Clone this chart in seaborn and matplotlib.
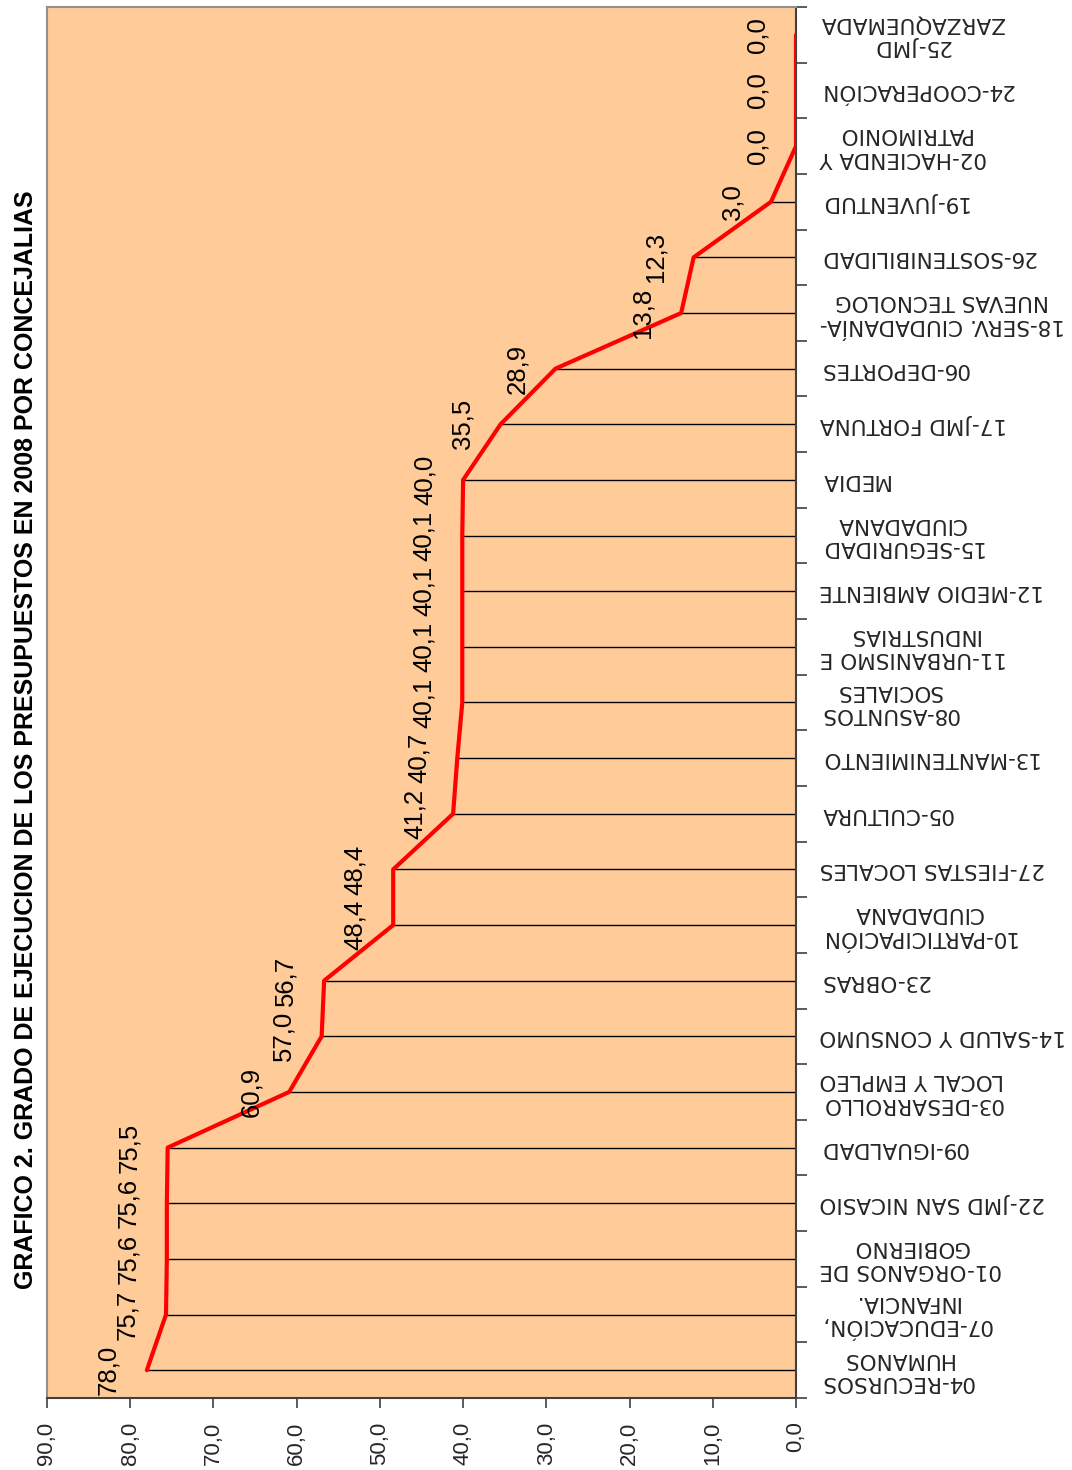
import matplotlib
matplotlib.use("Agg")
import matplotlib.pyplot as plt
import seaborn as sns
import numpy as np
import pandas as pd

categories = [
    "04-RECURSOS\nHUMANOS",
    "07-EDUCACIÓN,\nINFANCIA.",
    "01-ORGANOS DE\nGOBIERNO",
    "22-JMD SAN NICASIO",
    "09-IGUALDAD",
    "03-DESARROLLO\nLOCAL Y EMPLEO",
    "14-SALUD Y CONSUMO",
    "23-OBRAS",
    "10-PARTICIPACIÓN\nCIUDADANA",
    "27-FIESTAS LOCALES",
    "05-CULTURA",
    "13-MANTENIMIENTO",
    "08-ASUNTOS\nSOCIALES",
    "11-URBANISMO E\nINDUSTRIAS",
    "12-MEDIO AMBIENTE",
    "15-SEGURIDAD\nCIUDADANA",
    "MEDIA",
    "17-JMD FORTUNA",
    "06-DEPORTES",
    "18-SERV. CIUDADANÍA-\nNUEVAS TECNOLOG",
    "26-SOSTENIBILIDAD",
    "19-JUVENTUD",
    "02-HACIENDA Y\nPATRIMONIO",
    "24-COOPERACIÓN",
    "25-JMD\nZARZAQUEMADA",
]
values = [78.0, 75.7, 75.6, 75.6, 75.5, 60.9, 57.0, 56.7, 48.4, 48.4,
          41.2, 40.7, 40.1, 40.1, 40.1, 40.1, 40.0, 35.5, 28.9, 13.8,
          12.3, 3.0, 0.0, 0.0, 0.0]
x_ticks = [0, 10, 20, 30, 40, 50, 60, 70, 80, 90]
title = "GRAFICO 2. GRADO DE EJECUCION DE LOS PRESUPUESTOS EN 2008 POR CONCEJALIAS"

sns.set_style("ticks")
plt.rcParams["font.family"] = ["Liberation Sans", "DejaVu Sans"]

df = pd.DataFrame({"pos": np.arange(len(categories)), "valor": values, "cat": categories})

fig = plt.figure(figsize=(10.72, 14.70), dpi=100)
ax = fig.add_axes([47 / 1072, 1 - 1398 / 1470, (796 - 47) / 1072, (1398 - 7) / 1470])
ax.set_facecolor("#FFCC99")

# drop lines
ax.hlines(df["pos"], df["valor"], 0, color="black", lw=1.0, zorder=2)

sns.lineplot(data=df, x="valor", y="pos", orient="y", sort=False, estimator=None,
             color="#FF0000", lw=3.0, ax=ax, zorder=3)

for p, v in zip(df["pos"], df["valor"]):
    ax.annotate(f"{v:.1f}".replace(".", ","), xy=(v, p), xytext=(-19, 0),
                textcoords="offset points", ha="right", va="center",
                rotation=90, fontsize=18.5, color="black", zorder=4)

ax.set_xlim(90, 0)
ax.set_ylim(-0.5, len(categories) - 0.5)

ax.set_xticks(x_ticks)
ax.set_xticklabels([f"{t:.1f}".replace(".", ",") for t in x_ticks],
                   rotation=90, fontsize=16)
ax.tick_params(axis="x", direction="out", length=7, width=1.2,
               color="#404040", pad=10)

ax.yaxis.tick_right()
ax.set_yticks(df["pos"])
ax.set_yticklabels(categories)
ax.set_yticks(np.arange(-0.5, len(categories), 1.0), minor=True)
ax.tick_params(axis="y", which="major", length=0, pad=17)
ax.tick_params(axis="y", which="minor", direction="out", length=8, width=1.2,
               color="#404040", right=True, left=False)
for lbl in ax.get_yticklabels():
    lbl.set_rotation(180)
    lbl.set_multialignment("center")
    lbl.set_verticalalignment("center")
    lbl.set_fontfamily("DejaVu Sans")
    lbl.set_fontsize(15.5)

ax.set_xlabel("")
ax.set_ylabel("")

for side in ["left", "top"]:
    ax.spines[side].set_color("#909090")
    ax.spines[side].set_linewidth(1.5)
for side in ["right", "bottom"]:
    ax.spines[side].set_color("#404040")
    ax.spines[side].set_linewidth(1.5)
    ax.spines[side].set_visible(True)

fig.text(26 / 1072, 740 / 1470 if False else 1 - 740 / 1470, title, rotation=90,
         ha="center", va="center", fontsize=18, fontweight="bold", color="black")

fig.savefig("out.png", dpi=100, facecolor="white")
